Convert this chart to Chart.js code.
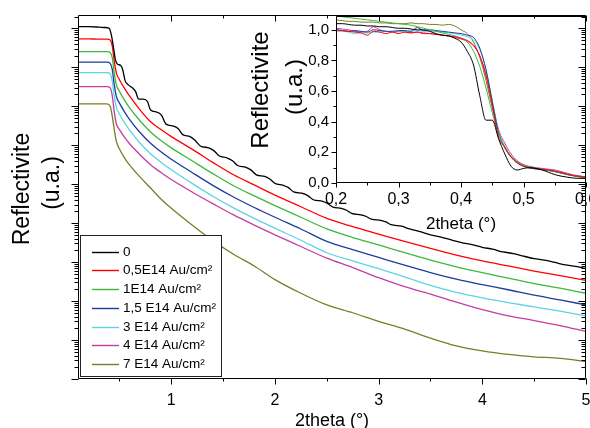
<!DOCTYPE html>
<html>
<head>
<meta charset="utf-8">
<script src="https://cdn.jsdelivr.net/npm/chart.js@4.4.1/dist/chart.umd.min.js"></script>
<style>
  html, body { margin: 0; padding: 0; background: #fff; overflow: hidden; }
  #wrap { position: relative; width: 590px; height: 428px; overflow: hidden; }
  #main { position: absolute; left: 0; top: 0; }
  #inset { position: absolute; left: 240px; top: 0; }
</style>
</head>
<body>
<div id="wrap">
  <!-- both canvases run past the right edge on purpose: the last tick label is cut like in the original -->
  <canvas id="main" width="620" height="428"></canvas>
  <canvas id="inset" width="390" height="235"></canvas>
</div>
<script>
const FONT = "'Liberation Sans', Arial, sans-serif"
Chart.defaults.font.family = FONT
Chart.defaults.color = '#000'
Chart.defaults.animation = false

// series names + colours (legend order)
const labels = ['0', '0,5E14 Au/cm²', '1E14 Au/cm²', '1,5 E14 Au/cm²', '3 E14 Au/cm²', '4 E14 Au/cm²', '7 E14 Au/cm²']
const colors = ['#000000', '#ff0000', '#3cb83c', '#1c3c9c', '#5cd4e4', '#c43ca4', '#7c7c24']

// **** MAIN PLOT, values are log10 of the reflectivity (a.u.)
// black curve has the fringes, so it gets its own x grid
const x0 = [0.10, 0.20, 0.30, 0.36, 0.40, 0.42, 0.44, 0.46, 0.48, 0.51, 0.53, 0.555, 0.58, 0.63, 0.655, 0.685, 0.73, 0.77, 0.80, 0.86,
  0.905, 0.95, 1.02, 1.065, 1.11, 1.18, 1.23, 1.28, 1.36, 1.41, 1.46, 1.54, 1.59, 1.64, 1.72, 1.77, 1.82, 1.90, 1.95, 2.00,
  2.08, 2.13, 2.18, 2.27, 2.32, 2.37, 2.46, 2.51, 2.56, 2.64, 2.69, 2.74, 2.83, 2.88, 2.93, 3.02, 3.07, 3.12, 3.22, 3.30,
  3.40, 3.50, 3.60, 3.70, 3.80, 3.90, 4.00, 4.10, 4.20, 4.30, 4.40, 4.50, 4.60, 4.70, 4.80, 4.90, 5.00]
const log0 = [0.04, 0.04, 0.03, 0.02, 0.00, -0.15, -0.45, -0.80, -0.92, -0.95, -1.05, -1.35, -1.44, -1.54, -1.62, -1.82, -1.82, -1.88, -2.10, -2.15,
  -2.23, -2.46, -2.51, -2.57, -2.73, -2.78, -2.88, -3.02, -3.07, -3.14, -3.27, -3.33, -3.40, -3.52, -3.57, -3.64, -3.76, -3.80, -3.87, -3.98,
  -4.03, -4.09, -4.20, -4.24, -4.30, -4.40, -4.44, -4.50, -4.59, -4.62, -4.67, -4.75, -4.79, -4.83, -4.90, -4.93, -4.97, -5.04, -5.08, -5.15,
  -5.22, -5.30, -5.36, -5.43, -5.50, -5.55, -5.62, -5.67, -5.74, -5.78, -5.85, -5.91, -5.95, -6.01, -6.07, -6.11, -6.17]

const xMain = [0.1, 0.2, 0.3, 0.38, 0.41, 0.43, 0.45, 0.47, 0.5, 0.55, 0.6, 0.7, 0.8, 0.9, 1.0, 1.2, 1.4, 1.6, 1.8, 2.0,
  2.25, 2.5, 2.75, 3.0, 3.25, 3.5, 3.75, 4.0, 4.25, 4.5, 4.75, 5.0]
const log05 = [-0.27, -0.27, -0.28, -0.28, -0.30, -0.45, -0.85, -1.15, -1.32, -1.55, -1.75, -2.10, -2.40, -2.60, -2.78, -3.10, -3.44, -3.76, -4.02, -4.28,
  -4.58, -4.88, -5.09, -5.28, -5.47, -5.65, -5.82, -5.97, -6.10, -6.23, -6.35, -6.47]
const log1 = [-0.60, -0.60, -0.60, -0.60, -0.62, -0.75, -1.15, -1.45, -1.62, -1.85, -2.05, -2.38, -2.66, -2.88, -3.07, -3.40, -3.73, -4.04, -4.30, -4.55,
  -4.85, -5.15, -5.37, -5.56, -5.76, -5.95, -6.12, -6.27, -6.41, -6.55, -6.67, -6.80]
const log15 = [-0.87, -0.87, -0.87, -0.87, -0.90, -1.05, -1.45, -1.75, -1.92, -2.15, -2.35, -2.68, -2.95, -3.17, -3.36, -3.70, -4.03, -4.33, -4.60, -4.85,
  -5.15, -5.47, -5.68, -5.88, -6.08, -6.27, -6.44, -6.58, -6.71, -6.85, -6.97, -7.10]
const log3 = [-1.14, -1.14, -1.14, -1.14, -1.17, -1.35, -1.75, -2.03, -2.20, -2.43, -2.62, -2.95, -3.22, -3.44, -3.63, -3.98, -4.31, -4.61, -4.88, -5.13,
  -5.44, -5.76, -5.97, -6.17, -6.38, -6.60, -6.78, -6.92, -7.04, -7.15, -7.26, -7.38]
const log4 = [-1.50, -1.50, -1.50, -1.50, -1.53, -1.72, -2.15, -2.45, -2.60, -2.80, -2.97, -3.25, -3.50, -3.70, -3.88, -4.20, -4.50, -4.79, -5.05, -5.30,
  -5.60, -5.90, -6.14, -6.40, -6.63, -6.82, -7.03, -7.22, -7.38, -7.50, -7.63, -7.78]
const log7 = [-1.94, -1.94, -1.94, -1.94, -2.00, -2.25, -2.60, -2.90, -3.10, -3.33, -3.52, -3.82, -4.10, -4.38, -4.62, -5.05, -5.45, -5.80, -6.10, -6.45,
  -6.80, -7.10, -7.30, -7.52, -7.72, -7.95, -8.15, -8.28, -8.37, -8.43, -8.47, -8.55]

const xTicksMain = [1, 2, 3, 4, 5]
const xMinorMain = [0.5, 1.5, 2.5, 3.5, 4.5]
const yMinMain = 1e-9
const yMaxMain = 2.19

// **** INSET, linear reflectivity
const xIn = [0.20, 0.21, 0.22, 0.23, 0.24, 0.25, 0.26, 0.27, 0.28, 0.29, 0.30, 0.31, 0.32, 0.33, 0.34, 0.35, 0.36, 0.37, 0.38, 0.39, 0.40,
  0.41, 0.42, 0.43, 0.44, 0.45, 0.46, 0.47, 0.48, 0.49, 0.50, 0.51, 0.52, 0.53, 0.54, 0.55, 0.56, 0.57, 0.58, 0.59, 0.60]
const in0 = [1.04, 1.04, 1.035, 1.03, 1.03, 1.025, 1.025, 1.02, 1.02, 1.015, 1.01, 1.01, 1.005, 1.0, 1.0, 0.99, 0.975, 0.965, 0.96, 0.945, 0.92,
  0.86, 0.77, 0.57, 0.41, 0.41, 0.29, 0.19, 0.11, 0.085, 0.095, 0.10, 0.095, 0.085, 0.07, 0.055, 0.045, 0.038, 0.032, 0.03, 0.03]
const in05 = [1.0, 0.995, 0.99, 0.985, 0.98, 0.965, 0.99, 0.985, 0.975, 0.985, 0.975, 0.985, 0.98, 0.985, 0.975, 0.975, 0.97, 0.965, 0.96, 0.955, 0.945,
  0.93, 0.90, 0.83, 0.70, 0.51, 0.30, 0.235, 0.17, 0.13, 0.11, 0.10, 0.095, 0.09, 0.085, 0.078, 0.068, 0.058, 0.048, 0.042, 0.038]
const in1 = [1.09, 1.085, 1.08, 1.075, 1.07, 1.065, 1.06, 1.055, 1.05, 1.045, 1.04, 1.035, 1.03, 1.02, 1.01, 1.0, 0.99, 0.98, 0.97, 0.96, 0.945,
  0.92, 0.86, 0.76, 0.62, 0.46, 0.32, 0.23, 0.17, 0.135, 0.115, 0.105, 0.098, 0.09, 0.083, 0.075, 0.066, 0.056, 0.047, 0.04, 0.036]
const in15 = [1.0, 0.995, 0.99, 0.995, 0.99, 0.985, 1.0, 0.995, 0.99, 0.99, 0.995, 0.995, 0.99, 1.015, 0.995, 1.0, 0.995, 0.99, 0.985, 0.98, 0.975,
  0.965, 0.95, 0.88, 0.74, 0.53, 0.33, 0.23, 0.17, 0.135, 0.11, 0.098, 0.092, 0.087, 0.082, 0.075, 0.065, 0.055, 0.047, 0.04, 0.035]
const in3 = [0.99, 0.99, 0.985, 0.975, 0.98, 0.98, 0.985, 0.985, 0.99, 0.985, 0.985, 0.99, 0.99, 0.995, 0.99, 0.99, 0.99, 0.985, 0.98, 0.975, 0.965,
  0.955, 0.935, 0.87, 0.74, 0.54, 0.34, 0.24, 0.17, 0.13, 0.108, 0.097, 0.09, 0.085, 0.08, 0.073, 0.064, 0.054, 0.046, 0.04, 0.035]
const in4 = [1.01, 1.005, 1.0, 0.99, 0.985, 0.99, 1.02, 1.0, 0.99, 0.985, 0.99, 0.985, 0.98, 0.985, 0.98, 0.975, 0.97, 0.965, 0.96, 0.95, 0.94,
  0.925, 0.895, 0.83, 0.71, 0.53, 0.35, 0.26, 0.19, 0.145, 0.12, 0.108, 0.10, 0.095, 0.09, 0.085, 0.075, 0.063, 0.053, 0.046, 0.04]
const in7 = [1.065, 1.06, 1.055, 1.055, 1.05, 1.05, 1.05, 1.045, 1.045, 1.04, 1.04, 1.04, 1.045, 1.04, 1.04, 1.035, 1.035, 1.03, 1.035, 1.025, 1.0,
  0.975, 0.92, 0.82, 0.67, 0.49, 0.33, 0.235, 0.175, 0.14, 0.115, 0.103, 0.096, 0.09, 0.085, 0.078, 0.068, 0.058, 0.05, 0.044, 0.04]

const xTicksIn = [0.2, 0.3, 0.4, 0.5, 0.6]
const xMinorIn = [0.25, 0.35, 0.45, 0.55]
const yTicksIn = [0, 0.2, 0.4, 0.6, 0.8, 1.0]
const yMinorIn = [0.1, 0.3, 0.5, 0.7, 0.9]

// log axis tick marks (no labels on the picture)
const decades = [], logMinor = []
for (let n = -9; n <= 0; n++) {
  decades.push(Math.pow(10, n))
  for (let k = 2; k <= 9; k++) {
    if (k * Math.pow(10, n) <= yMaxMain) logMinor.push(k * Math.pow(10, n))
  }
}

// **** PLUGINS
// axis frame + hand placed tick marks + rotated y titles
const axisBox = {
  id: 'axisBox',
  afterDatasetsDraw(chart, args, o) {
    const { ctx, chartArea: a } = chart
    const L = Math.round(a.left) + 0.5, R = Math.round(a.right) - 0.5
    const T = Math.round(a.top) + 0.5, B = Math.round(a.bottom) - 0.5
    ctx.save()
    ctx.strokeStyle = '#000'
    ctx.lineWidth = 1
    ctx.beginPath()
    ctx.moveTo(R, T); ctx.lineTo(L, T); ctx.lineTo(L, B); ctx.lineTo(R, B); ctx.lineTo(R, T)
    o.ticks.forEach(t => {
      const s = chart.scales[t.axis]
      t.values.forEach(v => {
        const p = Math.round(s.getPixelForValue(v)) + 0.5
        if (t.side === 'bottom') { ctx.moveTo(p, B); ctx.lineTo(p, B + t.len) }
        else if (t.side === 'top') { ctx.moveTo(p, T); ctx.lineTo(p, T + t.len) }
        else if (t.side === 'left') { ctx.moveTo(L, p); ctx.lineTo(L + t.len, p) }
        else { ctx.moveTo(R, p); ctx.lineTo(R + t.len, p) }
      })
    })
    ctx.stroke()
    ctx.fillStyle = '#000'
    ctx.textAlign = 'center'
    ctx.textBaseline = 'middle'
    o.titles.forEach(t => {
      ctx.save()
      ctx.translate(t.x, t.y)
      ctx.rotate(-Math.PI / 2)
      ctx.font = t.size + 'px ' + FONT
      ctx.fillText(t.text, 0, 0)
      ctx.restore()
    })
    ctx.restore()
  }
}

// framed legend in the lower left corner
const boxLegend = {
  id: 'boxLegend',
  afterDatasetsDraw(chart, args, o) {
    if (!o.show) return
    const ctx = chart.ctx
    ctx.save()
    ctx.fillStyle = '#fff'
    ctx.fillRect(o.x, o.y, o.w, o.h)
    ctx.strokeStyle = '#222'
    ctx.lineWidth = 1
    ctx.strokeRect(o.x + 0.5, o.y + 0.5, o.w, o.h)
    ctx.font = o.size + 'px ' + FONT
    ctx.textBaseline = 'middle'
    ctx.textAlign = 'left'
    chart.data.datasets.forEach((d, i) => {
      const y = Math.round(o.y + o.first + i * o.step) + 0.5
      ctx.strokeStyle = d.borderColor
      ctx.lineWidth = 1.4
      ctx.beginPath()
      ctx.moveTo(o.x + 12, y)
      ctx.lineTo(o.x + 39, y)
      ctx.stroke()
      ctx.fillStyle = '#000'
      ctx.fillText(d.label, o.x + 43, y)
    })
    ctx.restore()
  }
}

function makeSet(label, color, xs, ys, width) {
  return {
    label: label,
    data: xs.map((x, j) => ({ x: x, y: ys[j] })),
    borderColor: color,
    backgroundColor: color,
    borderWidth: width,
    pointRadius: 0,
    fill: false,
    cubicInterpolationMode: 'monotone'
  }
}
const toLin = arr => arr.map(v => Math.pow(10, v))
const noGrid = { display: false, drawTicks: false }

// **** MAIN CHART
const mainSeries = [[x0, log0], [xMain, log05], [xMain, log1], [xMain, log15], [xMain, log3], [xMain, log4], [xMain, log7]]
new Chart(document.getElementById('main'), {
  type: 'line',
  data: {
    datasets: mainSeries.map((s, i) => makeSet(labels[i], colors[i], s[0], toLin(s[1]), 1.3))
  },
  options: {
    responsive: false,
    layout: { padding: { top: 15, right: 34, left: 0, bottom: 0 } },
    plugins: {
      legend: { display: false },
      tooltip: { enabled: false },
      axisBox: {
        ticks: [
          { axis: 'x', side: 'bottom', values: xTicksMain, len: 6 },
          { axis: 'x', side: 'bottom', values: xMinorMain, len: 3 },
          { axis: 'x', side: 'top', values: xTicksMain, len: 6 },
          { axis: 'x', side: 'top', values: xMinorMain, len: 3 },
          { axis: 'y', side: 'left', values: decades, len: -7 },
          { axis: 'y', side: 'left', values: logMinor, len: -4 },
          { axis: 'y', side: 'right', values: decades, len: -7 },
          { axis: 'y', side: 'right', values: logMinor, len: -4 }
        ],
        titles: [
          { text: 'Reflectivite', x: 23, y: 189, size: 23 },
          { text: '(u.a.)', x: 53, y: 183, size: 23 }
        ]
      },
      boxLegend: { show: true, x: 80, y: 235, w: 141, h: 141, first: 16.7, step: 18.75, size: 13.5 }
    },
    scales: {
      x: {
        type: 'linear',
        min: 0.1,
        max: 5,
        afterBuildTicks: s => { s.ticks = xTicksMain.map(v => ({ value: v })) },
        ticks: { font: { size: 16 }, color: '#000', padding: 12, maxRotation: 0, callback: v => String(v) },
        grid: noGrid,
        border: { display: false },
        title: { display: true, text: '2theta (°)', font: { size: 18 }, color: '#000', padding: { top: 0, bottom: -4 } },
        afterFit: s => { s.height = 49 }
      },
      y: {
        type: 'logarithmic',
        min: yMinMain,
        max: yMaxMain,
        ticks: { display: false },
        grid: noGrid,
        border: { display: false },
        afterFit: s => { s.width = 78 }
      }
    }
  },
  plugins: [axisBox, boxLegend]
})

// **** INSET CHART
const inSeries = [in0, in05, in1, in15, in3, in4, in7]
const comma = v => Number(v).toFixed(1).replace('.', ',')
new Chart(document.getElementById('inset'), {
  type: 'line',
  data: {
    datasets: inSeries.map((ys, i) => makeSet(labels[i], colors[i], xIn, ys, 1))
  },
  options: {
    responsive: false,
    layout: { padding: { top: 15, right: 44, left: 0, bottom: 0 } },
    plugins: {
      legend: { display: false },
      tooltip: { enabled: false },
      axisBox: {
        ticks: [
          { axis: 'x', side: 'bottom', values: xTicksIn, len: 5 },
          { axis: 'x', side: 'bottom', values: xMinorIn, len: 3 },
          { axis: 'y', side: 'left', values: yTicksIn, len: -5 },
          { axis: 'y', side: 'left', values: yMinorIn, len: -3 }
        ],
        titles: [
          { text: 'Reflectivite', x: 21, y: 90, size: 24 },
          { text: '(u.a.)', x: 55, y: 87, size: 24 }
        ]
      },
      boxLegend: { show: false }
    },
    scales: {
      x: {
        type: 'linear',
        min: 0.2,
        max: 0.6,
        afterBuildTicks: s => { s.ticks = xTicksIn.map(v => ({ value: v })) },
        ticks: { font: { size: 16 }, color: '#000', padding: 7, maxRotation: 0, callback: comma },
        grid: noGrid,
        border: { display: false },
        title: { display: true, text: '2theta (°)', font: { size: 17 }, color: '#000', padding: { top: 0, bottom: 0 } },
        afterFit: s => { s.height = 52 }
      },
      y: {
        type: 'linear',
        min: 0,
        max: 1.09,
        afterBuildTicks: s => { s.ticks = yTicksIn.map(v => ({ value: v })) },
        ticks: { font: { size: 15 }, color: '#000', padding: 7, callback: comma },
        grid: noGrid,
        border: { display: false },
        afterFit: s => { s.width = 96 }
      }
    }
  },
  plugins: [axisBox, boxLegend]
})
</script>
</body>
</html>
